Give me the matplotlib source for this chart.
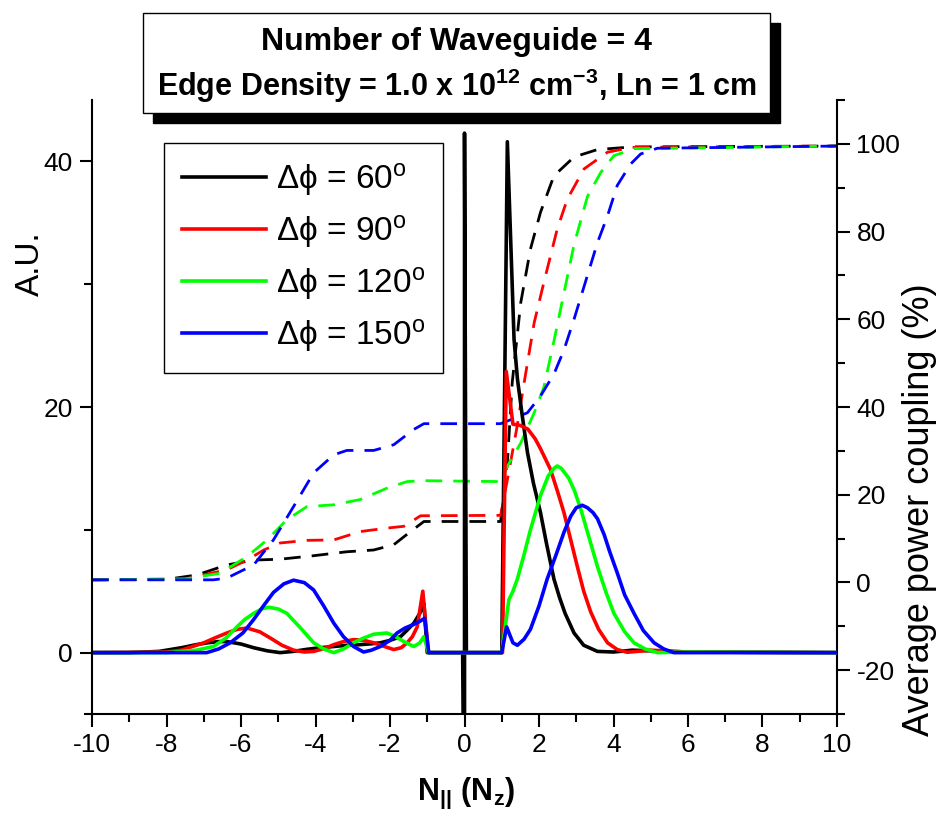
import matplotlib
matplotlib.use("Agg")
import matplotlib.pyplot as plt
from matplotlib.patches import Rectangle
from matplotlib.ticker import MultipleLocator, FixedLocator

plt.rcParams['font.family'] = ['Liberation Sans', 'DejaVu Sans']
plt.rcParams['mathtext.fontset'] = 'custom'
plt.rcParams['mathtext.rm'] = 'Liberation Sans'
plt.rcParams['mathtext.bf'] = 'Liberation Sans:bold'
plt.rcParams['mathtext.it'] = 'Liberation Sans:italic'
plt.rcParams['axes.unicode_minus'] = False

# spectra (left axis, A.U.)
x60 = [-10, -9, -8.2, -7.6, -7.2, -6.9, -6.6, -6.38, -6.0, -5.66, -5.3, -4.95, -4.6, -4.23, -3.87, -3.51,
       -3.15, -2.8, -2.5, -2.26, -2.0, -1.72, -1.55, -1.36, -1.2, -1.09, -1.0,
       -0.05, 0, 0, 0.05, 1.0, 1.15, 1.33, 1.42, 1.55, 1.69, 1.85, 2.04, 2.2, 2.4, 2.55, 2.7, 2.94, 3.2,
       3.57, 4.0, 4.5, 5.0, 6.0, 10]
y60 = [0, 0, 0.1, 0.4, 0.65, 0.8, 0.9, 0.9, 0.7, 0.4, 0.15, 0, 0.1, 0.27, 0.4, 0.5,
       0.6, 0.65, 0.72, 0.8, 1.0, 1.3, 1.8, 2.4, 3.2, 4.0, 0,
       0, -20, 42.3, 0, 0, 41.6, 25.5, 22.3, 19.3, 16.3, 13.8, 11.4, 8.9, 6.0, 4.5, 3.2, 1.6, 0.6,
       0.1, 0.05, 0.2, 0.15, 0.05, 0]

x90 = [-10, -8, -7.6, -7.3, -7.0, -6.7, -6.38, -6.1, -5.84, -5.5, -5.22, -4.9, -4.59, -4.3, -4.05, -3.75,
       -3.51, -3.25, -2.98, -2.7, -2.44, -2.15, -1.9, -1.7, -1.54, -1.4, -1.27, -1.12, -0.97,
       1.02, 1.12, 1.3, 1.5, 1.7, 1.9, 2.04, 2.2, 2.31, 2.5, 2.67, 2.85, 3.03, 3.2, 3.39, 3.6, 3.84,
       4.1, 4.37, 5.0, 6.0, 10]
y90 = [0, 0.05, 0.2, 0.5, 0.8, 1.2, 1.6, 1.9, 2.0, 1.7, 1.2, 0.6, 0.2, 0.05, 0.1, 0.35,
       0.65, 0.9, 1.06, 1.0, 0.8, 0.5, 0.25, 0.4, 0.8, 1.3, 2.1, 5.0, 0,
       0, 22.9, 18.6, 18.5, 18.2, 17.4, 16.6, 15.6, 14.9, 13.1, 11.4, 9.2, 7.0, 5.0, 3.3, 1.9, 0.8,
       0.25, 0.03, 0.2, 0.05, 0]

x120 = [-10, -8, -7.6, -7.2, -6.74, -6.4, -6.11, -5.9, -5.66, -5.45, -5.26, -5.0, -4.77, -4.4, -4.05,
        -3.78, -3.51, -3.25, -2.98, -2.7, -2.44, -2.08, -1.85, -1.63, -1.36, -1.2, -1.09, -0.97,
        1.0, 1.19, 1.3, 1.42, 1.6, 1.77, 2.04, 2.25, 2.4, 2.49, 2.6, 2.8, 2.95, 3.12, 3.35, 3.57, 3.8,
        4.01, 4.3, 4.55, 4.85, 5.18, 6.0, 10]
y120 = [0, 0, 0.1, 0.2, 0.5, 1.2, 2.1, 2.7, 3.2, 3.55, 3.7, 3.55, 3.2, 2.0, 0.8,
        0.3, 0, 0.3, 0.8, 1.2, 1.5, 1.6, 1.3, 0.9, 0.5, 0.8, 1.3, 0,
        0, 4.3, 5.0, 6.0, 8.0, 10.0, 12.8, 14.4, 15.0, 15.2, 15.0, 14.2, 13.2, 11.7, 9.3, 7.0, 4.9,
        3.2, 1.7, 0.8, 0.3, 0.0, 0.05, 0]

x150 = [-10, -6.92, -6.6, -6.29, -5.95, -5.66, -5.4, -5.13, -4.85, -4.59, -4.3, -4.05, -3.78, -3.51,
        -3.25, -2.98, -2.71, -2.5, -2.26, -2.0, -1.81, -1.6, -1.36, -1.2, -1.07, -0.96,
        1.0, 1.13, 1.3, 1.42, 1.6, 1.77, 2.0, 2.22, 2.45, 2.67, 2.85, 3.0, 3.16, 3.3, 3.45, 3.57, 3.75,
        3.9, 4.1, 4.3, 4.55, 4.8, 5.09, 5.35, 5.62, 10]
y150 = [0, 0, 0.3, 0.8, 1.6, 2.7, 3.8, 4.9, 5.6, 5.9, 5.7, 5.1, 3.8, 2.4,
        1.3, 0.5, 0.05, 0.2, 0.5, 1.0, 1.6, 2.0, 2.3, 2.55, 2.8, 0,
        0, 2.1, 0.8, 0.6, 1.1, 1.9, 3.8, 6.0, 7.9, 9.8, 11.1, 11.8, 12.0, 11.8, 11.4, 10.9, 9.6,
        8.2, 6.5, 4.7, 3.2, 1.8, 0.8, 0.3, 0.0, 0]

# average power coupling (right axis, %)
xc60 = [-10, -8, -7.19, -6.38, -5.66, -4.95, -4.05, -3.16, -2.44, -1.9, -1.45, -1.09, 0.97,
        1.15, 1.28, 1.51, 1.77, 2.04, 2.4, 2.94, 3.57, 4.5, 10]
yc60 = [0.6, 0.7, 1.7, 4.0, 5.1, 5.3, 6.1, 7.0, 7.4, 8.6, 11.6, 13.9, 13.9,
        27.2, 45.5, 63.8, 76.0, 84.4, 92.7, 97.0, 98.7, 99.3, 99.5]

xc90 = [-10, -7.5, -6.38, -5.84, -5.39, -4.95, -4.23, -3.51, -2.8, -2.08, -1.63, -1.18, 0.97,
        1.15, 1.4, 1.6, 1.87, 2.13, 2.49, 2.76, 3.21, 3.84, 4.5, 10]
yc90 = [0.6, 0.8, 2.9, 5.1, 7.4, 9.0, 9.6, 9.7, 11.6, 12.4, 12.8, 15.2, 15.3,
        23.4, 35.0, 45.5, 59.2, 68.4, 80.6, 87.4, 94.3, 98.1, 99.2, 99.5]

xc120 = [-10, -7.5, -6.56, -5.84, -5.3, -4.77, -4.23, -3.51, -2.8, -2.08, -1.54, -1.09, 0.97,
         1.15, 1.51, 1.87, 2.13, 2.4, 2.67, 2.94, 3.3, 3.66, 4.01, 4.55, 10]
yc120 = [0.6, 0.8, 2.1, 5.9, 9.7, 14.3, 17.3, 17.7, 18.9, 21.5, 23.0, 23.2, 23.0,
         26.5, 31.8, 38.7, 44.5, 55.0, 66.0, 77.0, 88.0, 93.5, 97.3, 98.9, 99.5]

xc150 = [-10, -6.74, -6.38, -5.66, -5.13, -4.59, -4.05, -3.51, -3.16, -2.44, -1.9, -1.36, -1.09, 0.97,
         1.24, 1.69, 2.04, 2.4, 2.67, 2.94, 3.3, 3.57, 3.84, 4.1, 4.46, 4.73, 5.18, 10]
yc150 = [0.6, 0.6, 1.0, 4.0, 9.7, 17.3, 25.0, 29.1, 30.1, 30.1, 31.4, 34.9, 36.2, 36.2,
         37.1, 38.7, 42.5, 47.5, 53.0, 60.0, 70.0, 77.5, 83.6, 90.5, 95.4, 97.7, 99.0, 99.5]

labels = ['Δϕ = 60$^{\\rm o}$', 'Δϕ = 90$^{\\rm o}$', 'Δϕ = 120$^{\\rm o}$', 'Δϕ = 150$^{\\rm o}$']
colors = ['black', 'red', '#00ff00', 'blue']

fig = plt.figure(figsize=(9.45, 8.25), dpi=100)
ax = fig.add_axes([0.0974, 0.1345, 0.7883, 0.7443])
ax2 = ax.twinx()
ax.set_zorder(2)
ax.patch.set_visible(False)

for xs, ys, c in zip([xc60, xc90, xc120, xc150], [yc60, yc90, yc120, yc150], colors):
    ax2.plot(xs, ys, color=c, lw=2.0, dashes=(6, 4))

handles = []
for xs, ys, c, lab in zip([x60, x90, x120, x150], [y60, y90, y120, y150], colors, labels):
    h, = ax.plot(xs, ys, color=c, lw=2.6, label=lab)
    handles.append(h)

ax.set_xlim(-10, 10)
ax.set_ylim(-5, 45)
ax2.set_ylim(-30, 110)

ax.xaxis.set_major_locator(MultipleLocator(2))
ax.xaxis.set_minor_locator(MultipleLocator(1))
ax.yaxis.set_major_locator(FixedLocator([0, 20, 40]))
ax.yaxis.set_minor_locator(FixedLocator([-5, 10, 30]))
ax2.yaxis.set_major_locator(MultipleLocator(20))
ax2.yaxis.set_minor_locator(MultipleLocator(10))

for a in (ax, ax2):
    a.spines['top'].set_visible(False)
    for s in a.spines.values():
        s.set_linewidth(1.5)
    a.tick_params(which='major', direction='out', length=9, width=1.5, labelsize=19, pad=5)
    a.tick_params(which='minor', direction='out', length=5.5, width=1.5)
ax.spines['right'].set_visible(False)
ax2.spines['left'].set_visible(False)
ax2.spines['bottom'].set_visible(False)

ax.legend(handles=handles, loc='upper left', bbox_to_anchor=(0.0966, 0.930), borderaxespad=0,
          fontsize=24, frameon=True, fancybox=False, edgecolor='black', framealpha=1,
          handlelength=2.5, handletextpad=0.3, labelspacing=0.45, borderpad=0.55)
ax.get_legend().get_frame().set_linewidth(1.0)

fig.text(30 / 945, 1 - 264 / 825, 'A.U.', rotation=90, ha='center', va='center', fontsize=24)
fig.text(920 / 945, 1 - 510 / 825, 'Average power coupling (%)', rotation=90, ha='center', va='center',
         fontsize=26)
fig.text(466 / 945, 1 - 793 / 825, r'$\mathbf{N_{||}\ (N_z)}$', ha='center', va='center', fontsize=22)

# title box with shadow
bx, by, bw, bh = 143 / 945, 1 - 113 / 825, 627 / 945, 100 / 825
fig.patches.append(Rectangle((bx + 10 / 945, by - 10 / 825), bw, bh, transform=fig.transFigure,
                             facecolor='black', edgecolor='black', zorder=5))
fig.patches.append(Rectangle((bx, by), bw, bh, transform=fig.transFigure,
                             facecolor='white', edgecolor='black', lw=1.0, zorder=6))
fig.text(bx + bw / 2, 1 - 42 / 825, 'Number of Waveguide = 4', ha='center', va='center',
         fontsize=23, fontweight='bold', zorder=7)
fig.text(bx + bw / 2, 1 - 86 / 825, r'Edge Density = 1.0 x 10$^{\mathbf{12}}$ cm$^{\mathbf{-3}}$, Ln = 1 cm',
         ha='center', va='center', fontsize=22, fontweight='bold', zorder=7)

fig.savefig('out.png', dpi=100)
